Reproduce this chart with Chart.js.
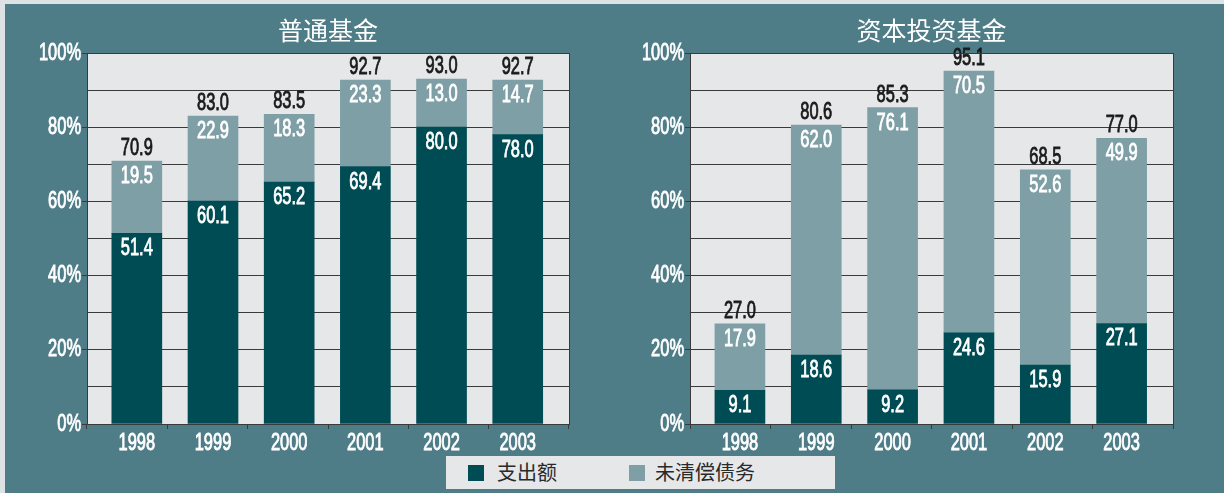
<!DOCTYPE html>
<html>
<head>
<meta charset="utf-8">
<script src="https://cdn.jsdelivr.net/npm/chart.js@4"></script>
<style>
  body { margin: 0; width: 1224px; height: 493px; background: #dde2e4; position: relative; overflow: hidden; }
  #frame { position: absolute; left: 5px; top: 4px; right: 0; bottom: 0; background: #4f7d87; }
  .box { position: absolute; top: 0; width: 612px; height: 493px; }
  #legend { position: absolute; left: 446px; top: 456px; width: 389px; height: 33px; background: #e6e7e9;
            font-family: "Noto Sans CJK SC", sans-serif; font-size: 20px; color: #2a2a2a; }
  #legend span.sw { position: absolute; top: 9px; width: 16px; height: 16px; }
  #legend span.tx { position: absolute; top: 1px; line-height: 30px; }
</style>
</head>
<body>
<div id="frame"></div>
<div class="box" style="left:0"><canvas id="general"></canvas></div>
<div class="box" style="left:612px"><canvas id="capital"></canvas></div>
<div id="legend"></div>
<script>
var years = ['1998', '1999', '2000', '2001', '2002', '2003'];
var percentTicks = [0, 20, 40, 60, 80, 100];
var seriesNames = ['支出额', '未清偿债务'];
var panelTitles = ['普通基金', '资本投资基金'];

var generalSpent = [51.4, 60.1, 65.2, 69.4, 80.0, 78.0];
var generalOwed = [19.5, 22.9, 18.3, 23.3, 13.0, 14.7];
var generalTotal = [70.9, 83.0, 83.5, 92.7, 93.0, 92.7];

var capitalSpent = [9.1, 18.6, 9.2, 24.6, 15.9, 27.1];
var capitalOwed = [17.9, 62.0, 76.1, 70.5, 52.6, 49.9];
var capitalTotal = [27.0, 80.6, 85.3, 95.1, 68.5, 77.0];

var darkColor = '#004c54';
var lightColor = '#7f9fa6';
var lineColor = '#3a3a3a';
var textFont = '24px "Liberation Sans", Arial, sans-serif';

// condensed text: the original uses a narrow face we do not have
function narrowText(ctx, text, x, y, align) {
    ctx.save();
    ctx.translate(x, y);
    ctx.scale(0.685, 1);
    ctx.textAlign = align;
    ctx.textBaseline = 'alphabetic';
    ctx.strokeStyle = ctx.fillStyle;
    ctx.lineWidth = 0.9;
    ctx.fillText(text, 0, 0);
    ctx.strokeText(text, 0, 0);
    ctx.restore();
}

function panelText(totals) {
    return {
        id: 'panelText',
        beforeDraw: function (chart) {
            var a = chart.chartArea;
            chart.ctx.save();
            chart.ctx.fillStyle = '#e6e7e9';
            chart.ctx.fillRect(a.left, a.top, a.right - a.left, a.bottom - a.top);
            chart.ctx.restore();
        },
        afterDatasetsDraw: function (chart) {
            var ctx = chart.ctx;
            var a = chart.chartArea;
            ctx.save();
            ctx.font = textFont;

            // bar segment values
            chart.data.datasets.forEach(function (ds, i) {
                chart.getDatasetMeta(i).data.forEach(function (bar, j) {
                    ctx.fillStyle = '#ffffff';
                    narrowText(ctx, ds.data[j].toFixed(1), bar.x, bar.y + 22, 'center');
                });
            });
            // totals on top
            var top = chart.getDatasetMeta(chart.data.datasets.length - 1);
            top.data.forEach(function (bar, j) {
                ctx.fillStyle = '#1a1a1a';
                narrowText(ctx, totals[j].toFixed(1), bar.x, bar.y - 6, 'center');
            });

            // axis labels
            ctx.fillStyle = '#ffffff';
            var ys = chart.scales.y;
            percentTicks.forEach(function (v) {
                narrowText(ctx, v + '%', a.left - 6, ys.getPixelForValue(v) + 6.5, 'right');
            });
            var xs = chart.scales.x;
            years.forEach(function (y) {
                narrowText(ctx, y, xs.getPixelForValue(+y), a.bottom + 26, 'center');
            });

            // plot frame
            ctx.strokeStyle = lineColor;
            ctx.lineWidth = 1;
            ctx.strokeRect(Math.round(a.left) + 0.5, Math.round(a.top) + 0.5,
                Math.round(a.right - a.left), Math.round(a.bottom - a.top));
            ctx.restore();
        }
    };
}

function makeChart(id, title, spent, owed, totals, axisWidth, padRight) {
    var ctx = document.getElementById(id).getContext('2d');
    return new Chart(ctx, {
        type: 'bar',
        data: {
            labels: years,
            datasets: [
                { label: seriesNames[0], data: spent, backgroundColor: darkColor, barThickness: 50 },
                { label: seriesNames[1], data: owed, backgroundColor: lightColor, barThickness: 50 }
            ]
        },
        options: {
            responsive: true,
            maintainAspectRatio: false,
            animation: false,
            layout: { padding: { left: 0, right: padRight, top: 0, bottom: 64 } },
            plugins: {
                legend: { display: false },
                tooltip: { enabled: false },
                title: {
                    display: true,
                    text: title,
                    fullSize: false,
                    color: '#ffffff',
                    font: { family: '"Noto Sans CJK SC", sans-serif', size: 25, weight: 'normal' },
                    padding: { top: 15, bottom: 8 }
                }
            },
            scales: {
                x: {
                    type: 'linear',
                    display: false,
                    stacked: true,
                    offset: false,
                    min: 1998 - 0.654,
                    max: 2003 + 0.673
                },
                xt: {
                    type: 'linear',
                    position: 'bottom',
                    min: 0,
                    max: 5,
                    ticks: { display: false, stepSize: 1 },
                    grid: { drawOnChartArea: false, tickLength: 5, tickColor: lineColor },
                    border: { color: lineColor }
                },
                y: {
                    stacked: true,
                    min: 0,
                    max: 100,
                    afterFit: function (s) { s.width = axisWidth; },
                    ticks: {
                        stepSize: 10,
                        autoSkip: false,
                        callback: function () { return ''; }
                    },
                    grid: {
                        color: lineColor,
                        tickLength: 5,
                        tickColor: function (c) {
                            return c.tick && c.tick.value % 20 === 0 ? lineColor : 'rgba(0,0,0,0)';
                        }
                    },
                    border: { color: lineColor }
                }
            }
        },
        plugins: [panelText(totals)]
    });
}

makeChart('general', panelTitles[0], generalSpent, generalOwed, generalTotal, 87, 43);
makeChart('capital', panelTitles[1], capitalSpent, capitalOwed, capitalTotal, 78, 51);

// legend
var legend = document.getElementById('legend');
var legendItems = [
    { name: seriesNames[0], color: darkColor, sw: 22, tx: 51 },
    { name: seriesNames[1], color: lightColor, sw: 183, tx: 209 }
];
legendItems.forEach(function (item) {
    var sw = document.createElement('span');
    sw.className = 'sw';
    sw.style.left = item.sw + 'px';
    sw.style.background = item.color;
    legend.appendChild(sw);
    var tx = document.createElement('span');
    tx.className = 'tx';
    tx.style.left = item.tx + 'px';
    tx.textContent = item.name;
    legend.appendChild(tx);
});
</script>
</body>
</html>
